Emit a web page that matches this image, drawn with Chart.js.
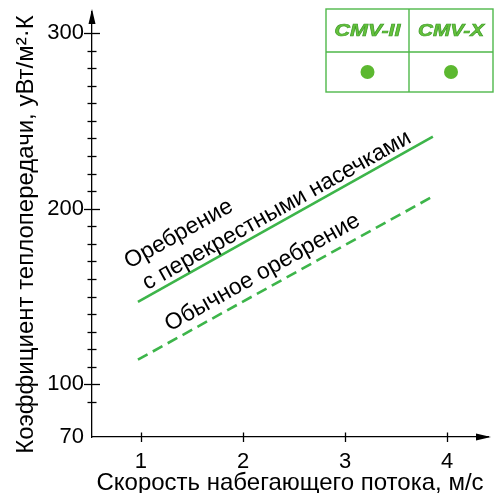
<!DOCTYPE html>
<html>
<head>
<meta charset="utf-8">
<script src="https://cdn.jsdelivr.net/npm/chart.js@4.4.0/dist/chart.umd.min.js"></script>
<style>
  html, body { margin: 0; padding: 0; background: #fff; }
  #wrap { width: 494px; height: 493px; }
</style>
</head>
<body>
<div id="wrap"><canvas id="chart" width="494" height="493"></canvas></div>
<script>
// values
var speed = [0.97, 3.86];              // м/с
var crossRibbed = [147, 241];          // оребрение с перекрестными насечками
var plainRibbed = [114, 207];          // обычное оребрение
var xTicks = [1, 2, 3, 4];
var yLabels = [70, 100, 200, 300];
var yMinor = [];
for (var v = 90; v <= 300; v += 10) yMinor.push(v);
var models = ['CMV-II', 'CMV-X'];
var modelMarks = [true, true];

var GREEN = '#3db54a';
var FONT = "'Liberation Sans', Arial, sans-serif";
var yTitle = 'Коэффициент теплопередачи, уВт/м²·К';

function pts(ys){
  return speed.map(function(x, i){ return {x: x, y: ys[i]}; });
}

// arrows, crossing tick marks, y title, line captions, model table
var decor = {
  id: 'decor',
  afterDraw: function(chart){
    var ctx = chart.ctx, a = chart.chartArea;
    var xs = chart.scales.x, ys = chart.scales.y;
    ctx.save();
    ctx.strokeStyle = '#000';
    ctx.fillStyle = '#000';
    ctx.lineWidth = 1.3;

    // y ticks
    yMinor.forEach(function(v){
      var p = Math.round(ys.getPixelForValue(v)) + 0.5;
      var h = yLabels.indexOf(v) >= 0 ? 8 : 4.5;
      ctx.beginPath(); ctx.moveTo(a.left - h, p); ctx.lineTo(a.left + h, p); ctx.stroke();
    });
    // x ticks
    xTicks.forEach(function(v){
      var p = Math.round(xs.getPixelForValue(v)) + 0.5;
      ctx.beginPath(); ctx.moveTo(p, a.bottom - 4.5); ctx.lineTo(p, a.bottom + 5); ctx.stroke();
    });

    // arrow heads
    ctx.beginPath();
    ctx.moveTo(a.left, a.top - 3);
    ctx.lineTo(a.left - 3.5, a.top + 12);
    ctx.lineTo(a.left + 3.5, a.top + 12);
    ctx.closePath(); ctx.fill();
    ctx.beginPath();
    ctx.moveTo(a.right + 3, a.bottom);
    ctx.lineTo(a.right - 12, a.bottom - 3.5);
    ctx.lineTo(a.right - 12, a.bottom + 3.5);
    ctx.closePath(); ctx.fill();

    // y axis title
    ctx.save();
    ctx.font = '24px ' + FONT;
    ctx.textAlign = 'center';
    ctx.textBaseline = 'alphabetic';
    ctx.translate(33, (a.top + a.bottom) / 2 + 10);
    ctx.rotate(-Math.PI / 2);
    ctx.fillText(yTitle, 0, 0);
    ctx.restore();

    // captions along the lines
    var x1 = xs.getPixelForValue(speed[0]), y1 = ys.getPixelForValue(crossRibbed[0]);
    var x2 = xs.getPixelForValue(speed[1]), y2 = ys.getPixelForValue(crossRibbed[1]);
    var ang = Math.atan2(y2 - y1, x2 - x1);
    var captions = [
      {text: 'Оребрение', x: 1.37, y: 185.5},
      {text: 'с перекрестными насечками', x: 2.33, y: 199},
      {text: 'Обычное оребрение', x: 2.19, y: 163.6}
    ];
    ctx.font = '23px ' + FONT;
    ctx.textAlign = 'center';
    ctx.textBaseline = 'middle';
    captions.forEach(function(c){
      ctx.save();
      ctx.translate(xs.getPixelForValue(c.x), ys.getPixelForValue(c.y));
      ctx.rotate(ang);
      ctx.fillText(c.text, 0, 0);
      ctx.restore();
    });

    // model table
    var tx = 326, ty = 9, tw = 167, th = 83, tm = 409, trow = 52;
    ctx.strokeStyle = '#4fb84a';
    ctx.lineWidth = 1.4;
    ctx.strokeRect(tx, ty, tw, th);
    ctx.beginPath();
    ctx.moveTo(tm, ty); ctx.lineTo(tm, ty + th);
    ctx.moveTo(tx, trow); ctx.lineTo(tx + tw, trow);
    ctx.stroke();
    var cols = [(tx + tm) / 2, (tm + tx + tw) / 2];
    ctx.font = 'italic bold 16px ' + FONT;
    ctx.textBaseline = 'middle';
    models.forEach(function(m, i){
      var w = ctx.measureText(m).width;
      ctx.save();
      ctx.translate(cols[i], (ty + trow) / 2 + 1);
      ctx.scale(66 / w, 1);
      ctx.fillStyle = '#66c23c';
      ctx.strokeStyle = '#3e9c2a';
      ctx.lineWidth = 0.6;
      ctx.fillText(m, 0, 0);
      ctx.strokeText(m, 0, 0);
      ctx.restore();
      if (modelMarks[i]) {
        ctx.beginPath();
        ctx.arc(cols[i], (trow + ty + th) / 2, 7, 0, Math.PI * 2);
        ctx.fillStyle = '#5cb830';
        ctx.fill();
      }
    });
    ctx.restore();
  }
};

var tickFont = {family: FONT, size: 22};

new Chart(document.getElementById('chart').getContext('2d'), {
  type: 'scatter',
  data: {
    datasets: [{
      label: 'Оребрение с перекрестными насечками',
      data: pts(crossRibbed),
      showLine: true,
      borderColor: GREEN,
      borderWidth: 2.6,
      pointRadius: 0
    }, {
      label: 'Обычное оребрение',
      data: pts(plainRibbed),
      showLine: true,
      borderColor: GREEN,
      borderWidth: 2.6,
      borderDash: [11, 6],
      pointRadius: 0
    }]
  },
  options: {
    responsive: false,
    animation: false,
    layout: { padding: { top: 12, right: 6, left: 0, bottom: 0 } },
    plugins: { legend: { display: false }, tooltip: { enabled: false } },
    scales: {
      x: {
        type: 'linear', min: 0.52, max: 4.4,
        afterBuildTicks: function(s){ s.ticks = xTicks.map(function(v){ return {value: v}; }); },
        afterFit: function(s){ s.height = 56; s.paddingLeft = 0; s.paddingRight = 0; },
        grid: { display: false, drawTicks: false },
        border: { display: true, color: '#000', width: 1.3 },
        ticks: { color: '#000', font: tickFont, padding: 12, maxRotation: 0, autoSkip: false },
        title: { display: true, text: 'Скорость набегающего потока, м/с', color: '#000', font: {family: FONT, size: 24}, padding: { top: 0, bottom: -5 } }
      },
      y: {
        type: 'linear', min: 70, max: 312,
        afterBuildTicks: function(s){ s.ticks = yLabels.map(function(v){ return {value: v}; }); },
        afterFit: function(s){ s.width = 92; s.paddingTop = 0; s.paddingBottom = 0; },
        grid: { display: false, drawTicks: false },
        border: { display: true, color: '#000', width: 1.3 },
        ticks: { color: '#000', font: tickFont, padding: 8, autoSkip: false }
      }
    }
  },
  plugins: [decor]
});
</script>
</body>
</html>
